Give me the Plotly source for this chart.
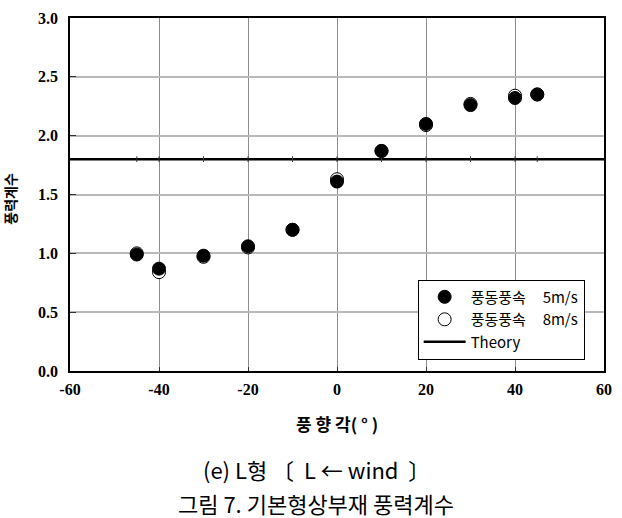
import plotly.graph_objects as go

# wind direction angles (degrees)
angles = [-45, -40, -30, -20, -10, 0, 10, 20, 30, 40, 45]
# force coefficient, tunnel wind speed 5 m/s
cf_5ms = [0.99, 0.87, 0.98, 1.06, 1.20, 1.61, 1.87, 2.10, 2.26, 2.32, 2.35]
# force coefficient, tunnel wind speed 8 m/s
cf_8ms = [1.00, 0.84, 0.97, 1.05, 1.20, 1.63, 1.87, 2.09, 2.27, 2.34, 2.35]
# theoretical coefficient
theory_x = [-60, 60]
theory_y = [1.8, 1.8]

x_ticks = [-60, -40, -20, 0, 20, 40, 60]
y_ticks = [0.0, 0.5, 1.0, 1.5, 2.0, 2.5, 3.0]

serif = "Liberation Serif"
kr = "Noto Sans CJK KR"

fig = go.Figure()

fig.add_trace(go.Scatter(
    x=theory_x, y=theory_y, mode="lines", name="Theory",
    line=dict(color="black", width=2.5), legendrank=3,
))
fig.add_trace(go.Scatter(
    x=angles, y=[theory_y[0]] * len(angles), mode="markers", showlegend=False,
    marker=dict(symbol="line-ns", size=4, line=dict(color="#333", width=1)),
    hoverinfo="skip",
))
fig.add_trace(go.Scatter(
    x=angles, y=cf_8ms, mode="markers", name="풍동풍속     8m/s",
    marker=dict(symbol="circle", size=13, color="white",
                line=dict(color="black", width=1)),
    legendrank=2,
))
fig.add_trace(go.Scatter(
    x=angles, y=cf_5ms, mode="markers", name="풍동풍속     5m/s",
    marker=dict(symbol="circle", size=13, color="black",
                line=dict(color="black", width=1)),
    legendrank=1,
))

fig.update_layout(
    width=622, height=518,
    margin=dict(l=70, r=10, t=15, b=147),
    paper_bgcolor="white", plot_bgcolor="white",
    showlegend=True,
    legend=dict(
        x=0.651, y=0.259, xanchor="left", yanchor="top",
        bgcolor="white", bordercolor="black", borderwidth=1,
        font=dict(family=kr, size=15, color="black"),
        itemwidth=42, tracegroupgap=0,
    ),
    xaxis=dict(
        range=[-60, 60], tickvals=x_ticks,
        ticktext=[f"<b>{v}</b>" for v in x_ticks],
        showgrid=True, gridcolor="#8c8c8c", gridwidth=1,
        showline=True, linecolor="black", linewidth=1.5, mirror=True,
        zeroline=False, ticks="inside", ticklen=4, tickcolor="#333",
        ticklabelstandoff=3,
        tickfont=dict(family=serif, size=16, color="black"),
    ),
    yaxis=dict(
        range=[0, 3.0], tickvals=y_ticks,
        ticktext=[f"<b>{v:.1f}</b>" for v in y_ticks],
        showgrid=True, gridcolor="#b8b8b8", gridwidth=1.5,
        showline=True, linecolor="black", linewidth=1.5, mirror=True,
        zeroline=False, ticks="inside", ticklen=6, tickcolor="#333",
        ticklabelstandoff=7,
        tickfont=dict(family=serif, size=16, color="black"),
    ),
    annotations=[
        dict(text="<b>풍력계수</b>", xref="paper", yref="paper",
             x=-0.113, y=0.487, xanchor="center", yanchor="middle",
             textangle=-90, showarrow=False,
             font=dict(family=kr, size=14, color="black")),
        dict(text="<b>풍 향 각( ° )</b>", xref="paper", yref="paper",
             x=0.5, y=-0.149, xanchor="center", yanchor="middle",
             showarrow=False,
             font=dict(family=kr, size=17, color="black")),
        dict(text="(e) L형 〔  L ← wind  〕", xref="paper", yref="paper",
             x=0.461, y=-0.279, xanchor="center", yanchor="middle",
             showarrow=False,
             font=dict(family=kr, size=22, color="black")),
        dict(text="그림 7. 기본형상부재 풍력계수", xref="paper", yref="paper",
             x=0.461, y=-0.3746, xanchor="center", yanchor="middle",
             showarrow=False,
             font=dict(family=kr, size=22, color="black")),
    ],
)

fig.write_html("out.html")
